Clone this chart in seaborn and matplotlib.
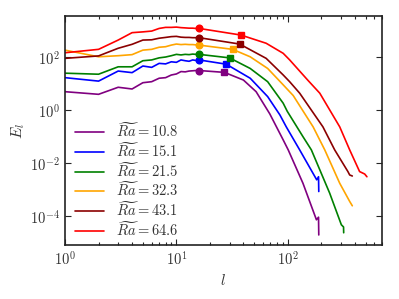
import numpy as np
import pandas as pd
import matplotlib
matplotlib.use("Agg")
import matplotlib.pyplot as plt
import matplotlib.ticker as mticker
import seaborn as sns

# Datos (l, E_l) para cada Ra
ra_labels = [r"$\widetilde{Ra} = 10.8$", r"$\widetilde{Ra} = 15.1$", r"$\widetilde{Ra} = 21.5$",
             r"$\widetilde{Ra} = 32.3$", r"$\widetilde{Ra} = 43.1$", r"$\widetilde{Ra} = 64.6$"]
colores = ["purple", "blue", "green", "orange", "darkred", "red"]

l_108 = [1, 2, 3, 4, 5, 6, 7, 8, 9, 10, 11, 12, 13, 14, 15, 16, 27, 40, 52, 69, 91, 101, 137, 181, 189, 190]
E_108 = [4.9, 3.9, 7.2, 6.2, 10.7, 11.7, 15.8, 16.6, 20.9, 22.9, 28.2, 27.5, 29.5, 30.2, 30.9, 30.9,
         26.3, 13.5, 4.9, 0.71, 0.074, 0.031, 1.7e-3, 7.1e-5, 8.9e-5, 1.9e-5]

l_151 = [1, 2, 3, 4, 5, 6, 7, 8, 9, 10, 11, 12, 13, 14, 15, 16, 28, 46, 66, 85, 97, 128, 182, 189, 190]
E_151 = [16.6, 12.3, 29.5, 25.7, 45.7, 40.7, 57.5, 55, 66, 63, 77.6, 72.4, 69, 77.6, 74, 77.6,
         53.7, 15.8, 3.2, 0.65, 0.23, 0.031, 2.3e-3, 3.0e-3, 8.3e-4]

l_215 = [1, 2, 3, 4, 5, 6, 7, 8, 9, 10, 11, 12, 13, 14, 15, 16, 30, 46, 66, 91, 99, 137, 163, 238, 303, 317, 318]
E_215 = [24.5, 22.4, 42.7, 42.7, 72.4, 77.6, 93, 100, 112, 126, 120, 126, 123, 129, 126, 126,
         93, 37, 11.7, 1.8, 0.89, 0.098, 0.031, 7.2e-4, 4.6e-5, 3.8e-5, 2.3e-5]

l_323 = [1, 2, 3, 4, 5, 6, 7, 8, 9, 10, 11, 12, 13, 14, 15, 16, 32, 46, 66, 91, 112, 169, 215, 293, 360, 380]
E_323 = [182, 102, 112, 123, 182, 195, 234, 245, 282, 309, 295, 302, 295, 295, 288, 282,
         195, 102, 37, 8.9, 3.5, 0.23, 0.031, 1.7e-3, 3.5e-4, 2.4e-4]

l_431 = [1, 2, 3, 4, 5, 6, 7, 8, 9, 10, 11, 12, 13, 14, 15, 16, 37, 64, 91, 104, 128, 207, 264, 347, 360, 380]
E_431 = [89, 110, 214, 302, 437, 447, 513, 550, 589, 603, 562, 550, 550, 537, 537, 537,
         309, 89, 21, 11.7, 4.3, 0.23, 0.031, 4.7e-3, 3.5e-3, 3.2e-3]

l_646 = [1, 2, 3, 4, 5, 6, 7, 8, 9, 10, 11, 12, 13, 14, 15, 16, 38, 64, 91, 104, 151, 194, 293, 360, 442, 491, 514]
E_646 = [145, 195, 437, 832, 891, 955, 1202, 1318, 1318, 1349, 1288, 1259, 1230, 1230, 1202, 1202,
         676, 331, 138, 78, 13.5, 4.3, 0.23, 0.031, 4.7e-3, 3.8e-3, 3.0e-3]

# Marcadores: circulo en l=16, cuadrado en otra escala
l_circulo = [16, 16, 16, 16, 16, 16]
E_circulo = [30.9, 77.6, 126, 282, 537, 1202]
l_cuadrado = [27, 28, 30, 32, 37, 38]
E_cuadrado = [26.3, 53.7, 93, 195, 309, 676]

series_l = [l_108, l_151, l_215, l_323, l_431, l_646]
series_E = [E_108, E_151, E_215, E_323, E_431, E_646]

df = pd.concat([pd.DataFrame({"l": l, "E": E, "Ra": lab})
                for l, E, lab in zip(series_l, series_E, ra_labels)], ignore_index=True)

sns.set_style("ticks")
plt.rcParams["mathtext.fontset"] = "cm"
plt.rcParams["font.family"] = ["DejaVu Serif"]

fig, ax = plt.subplots(figsize=(3.99, 2.99), dpi=100)
fig.subplots_adjust(left=0.163, right=0.957, bottom=0.181, top=0.946)

sns.lineplot(data=df, x="l", y="E", hue="Ra", hue_order=ra_labels, palette=colores,
             estimator=None, sort=False, linewidth=1.2, ax=ax)

for i, c in enumerate(colores):
    ax.plot(l_circulo[i], E_circulo[i], "o", color=c, markersize=4.8, zorder=5)
    ax.plot(l_cuadrado[i], E_cuadrado[i], "s", color=c, markersize=4.8, zorder=5)

ax.set_xscale("log")
ax.set_yscale("log")
ax.set_xlim(1, 700)
ax.set_ylim(8e-6, 3.5e3)

fmt = mticker.FuncFormatter(lambda v, p: r"$10^{%d}$" % int(round(np.log10(v))))
ax.xaxis.set_major_locator(mticker.FixedLocator([1, 10, 100]))
ax.xaxis.set_minor_locator(mticker.LogLocator(base=10, subs=np.arange(2, 10), numticks=20))
ax.xaxis.set_minor_formatter(mticker.NullFormatter())
ax.yaxis.set_major_locator(mticker.FixedLocator([1e-4, 1e-2, 1e0, 1e2]))
ax.yaxis.set_minor_locator(mticker.NullLocator())
ax.xaxis.set_major_formatter(fmt)
ax.yaxis.set_major_formatter(fmt)

ax.tick_params(which="both", direction="in", top=True, right=True, labelsize=10.5,
               labelcolor="#333333", width=0.8)
ax.tick_params(which="major", length=4)
ax.tick_params(which="minor", length=2)
for s in ax.spines.values():
    s.set_linewidth(1.2)
    s.set_color("#222222")

ax.set_xlabel(r"$l$", fontsize=11, color="#333333", labelpad=4)
ax.set_ylabel(r"$E_l$", fontsize=11, color="#333333", labelpad=2)

ax.legend(loc="lower left", bbox_to_anchor=(0.0, -0.018), frameon=False, fontsize=10.5,
          handlelength=2.0, handletextpad=0.8, labelspacing=0.05, borderaxespad=0.3,
          labelcolor="#333333")

plt.savefig("out.png", dpi=100)
